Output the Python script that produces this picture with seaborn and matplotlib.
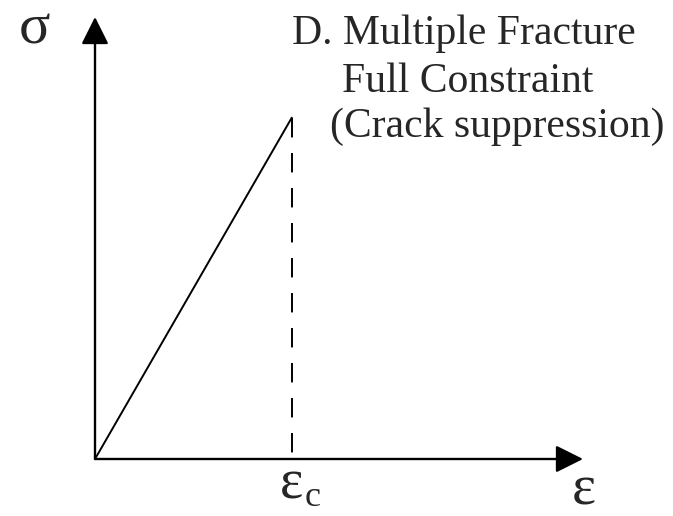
import matplotlib
matplotlib.use('Agg')
import matplotlib.pyplot as plt
import seaborn as sns
import pandas as pd

# linear elastic branch up to the critical strain, then full constraint
strain = [0.0, 1.0]
stress = [0.0, 1.0]
eps_c = 1.0
x_max = 2.48
y_max = 1.295

title_lines = ['D. Multiple Fracture', 'Full Constraint', '(Crack suppression)']

sns.set_theme(style='white')
plt.rcParams['font.family'] = ['Liberation Serif', 'DejaVu Serif']
plt.rcParams['mathtext.fontset'] = 'custom'
plt.rcParams['mathtext.rm'] = 'Liberation Serif'

fig = plt.figure(figsize=(6.73, 5.16), dpi=100)
ax = fig.add_axes([95 / 673, 57 / 516, 488 / 673, 442 / 516])

df = pd.DataFrame({'strain': strain, 'stress': stress})
sns.lineplot(data=df, x='strain', y='stress', color='black', lw=1.4, ax=ax)
ax.plot([eps_c, eps_c], [stress[-1], 0], color='black', lw=1.4,
        linestyle=(0, (10, 8)))

ax.set_xlim(0, x_max)
ax.set_ylim(0, y_max)
ax.set_xticks([])
ax.set_yticks([])
ax.set_xlabel('')
ax.set_ylabel('')
for s in ax.spines.values():
    s.set_visible(False)

arrow = dict(arrowstyle='-|>,head_length=0.8,head_width=0.4', mutation_scale=21,
             lw=1.7, color='black', shrinkA=0, shrinkB=0)
ax.annotate('', xy=(1, 0), xytext=(0, 0), xycoords='axes fraction', arrowprops=arrow)
ax.annotate('', xy=(0, 1), xytext=(0, 0), xycoords='axes fraction', arrowprops=arrow)

# axis symbols
fig.text(19 / 673, 1 - 43 / 516, 'σ', fontsize=42, va='baseline')
fig.text(571 / 673, 1 - 503 / 516, r'$\mathrm{ε}$', fontsize=41, va='baseline')
fig.text(279 / 673, 1 - 497 / 516, r'$\mathrm{ε}$', fontsize=40, va='baseline')
fig.text(304 / 673, 1 - 506 / 516, r'$\mathrm{c}$', fontsize=26, va='baseline')

fs = 30
fig.text(292 / 673, 1 - 44 / 516, title_lines[0], fontsize=fs, va='baseline')
fig.text(342 / 673, 1 - 92 / 516, title_lines[1], fontsize=fs, va='baseline')
fig.text(330 / 673, 1 - 137 / 516, title_lines[2], fontsize=fs, va='baseline')

fig.savefig('out.png', dpi=100, facecolor='white')
